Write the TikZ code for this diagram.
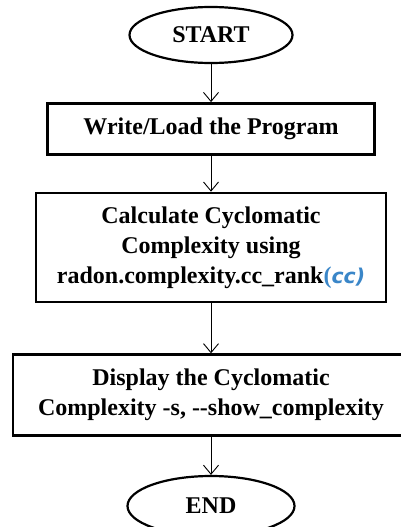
\documentclass[tikz,border=0pt]{standalone}
\usepackage{fontspec}
\setmainfont{Liberation Serif}
\newfontfamily\codefont[Scale=0.85]{DejaVu Sans}
\usetikzlibrary{arrows.meta,positioning,shapes.geometric}
\definecolor{ccblue}{HTML}{3A86C8}

\begin{document}
\begin{tikzpicture}[
  x=1pt, y=1pt,
  font=\fontsize{24}{30}\selectfont\bfseries,
  term/.style={draw, ellipse, line width=2.2pt, inner sep=0pt},
  box/.style={draw, line width=2.6pt, align=center, inner sep=2pt},
  arr/.style={-{Straight Barb[length=9pt,width=15pt]}, line width=0.9pt}
]
\useasboundingbox (0,0) rectangle (400,-527);

\node[term, minimum width=163pt, minimum height=56pt] (start) at (211,-35) {START};
\node[box, minimum width=327pt, minimum height=51pt, below=38pt of start] (load)
  {Write/Load the Program};
\node[box, minimum width=350pt, minimum height=109pt, below=36pt of load] (calc)
  {Calculate Cyclomatic\\ Complexity using\\
   radon.complexity.cc\_rank{\color{ccblue}(\codefont\itshape cc)}};
\node[box, minimum width=396pt, minimum height=81pt, below=50pt of calc] (show)
  {Display the Cyclomatic\\ Complexity -s, -{}-show\_complexity};
\node[term, minimum width=167pt, minimum height=60pt, below=38pt of show] (end) {END};

\draw[arr] (start)--(load);
\draw[arr] (load)--(calc);
\draw[arr] (calc)--(show);
\draw[arr] (show)--(end);
\end{tikzpicture}
\end{document}
